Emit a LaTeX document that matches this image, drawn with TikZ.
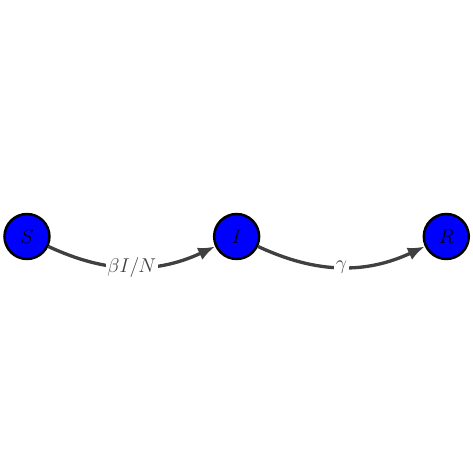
\documentclass[tikz,border=0pt]{standalone}
\usepackage{amsmath}
\usepackage{tikz}
\usepackage{xcolor}
\usetikzlibrary{positioning, arrows.meta}
\definecolor{compartment}{RGB}{0,0,255}
\definecolor{flow}{RGB}{64,64,64}

\begin{document}
\begin{tikzpicture}[
    node distance=3.43cm,
    comp/.style={circle, draw=black, line width=1.5pt, fill=compartment, minimum size=0.95cm, inner sep=0pt},
    rate/.style={-{Latex[length=3.6mm,width=2.8mm]}, line width=2pt, draw=flow, bend right=25},
    ratelabel/.style={fill=white, text=flow, inner sep=1pt, font=\large}
]
\useasboundingbox (0,0) rectangle (10,10);

\node[comp] at (0.57,5) (S) {\large $S$};
\node[comp, right=of S] (I) {\large $I$};
\node[comp, right=of I] (R) {\large $R$};

\draw[rate] (S) to node[ratelabel] {$\beta I/N$} (I);
\draw[rate] (I) to node[ratelabel] {$\gamma$} (R);

\end{tikzpicture}
\end{document}
